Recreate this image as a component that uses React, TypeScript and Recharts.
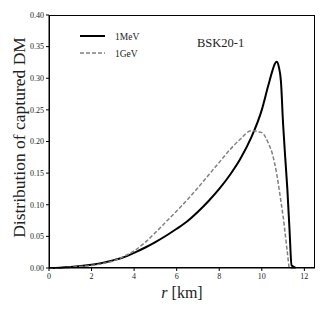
import { Label, Line, LineChart, XAxis, YAxis } from "recharts";

const radius = [
  0, 0.5, 1, 1.5, 2, 2.5, 3, 3.5, 4, 4.5, 5, 5.5, 6, 6.5, 7, 7.5, 8, 8.5, 9, 9.5, 10, 10.3, 10.5,
  10.6, 10.7, 10.8, 10.9, 11, 11.1, 11.2, 11.3, 11.4, 11.5, 11.6
];

const mev = [
  0, 0.0005, 0.0015, 0.003, 0.005, 0.008, 0.012, 0.017, 0.024, 0.032, 0.041, 0.051, 0.062, 0.074,
  0.089, 0.106, 0.125, 0.147, 0.173, 0.206, 0.25, 0.288, 0.312, 0.322, 0.326, 0.318, 0.295, 0.228,
  0.175, 0.125, 0.062, 0.004, 0.002, 0
];

const gev = [
  0, 0.0003, 0.001, 0.0025, 0.004, 0.007, 0.011, 0.018, 0.027, 0.04, 0.056, 0.073, 0.09, 0.108,
  0.127, 0.147, 0.167, 0.187, 0.204, 0.217, 0.214, 0.198, 0.18, 0.166, 0.149, 0.128, 0.105, 0.082,
  0.054, 0.025, 0, 0, 0, 0
];

const xTicks = [0, 2, 4, 6, 8, 10, 12];
const yTicks = [0, 0.05, 0.1, 0.15, 0.2, 0.25, 0.3, 0.35, 0.4];

const series = [
  { key: "mev", name: "1MeV", color: "#000000", width: 2, dash: undefined },
  { key: "gev", name: "1GeV", color: "#808080", width: 1.5, dash: "4 2" }
];

const data = radius.map((r, i) => ({ r, mev: mev[i], gev: gev[i] }));

const SERIF = "'Liberation Serif', 'DejaVu Serif', serif";
const tickStyle = { fontSize: 8, fontFamily: SERIF, fill: "#222" };

function LegendBox() {
  return (
    <svg width={70} height={34} style={{ position: "absolute", left: 80, top: 30 }}>
      {series.map((s, i) => (
        <g key={s.key}>
          <line
            x1={0}
            x2={25}
            y1={6 + i * 17}
            y2={6 + i * 17}
            stroke={s.color}
            strokeWidth={s.width}
            strokeDasharray={s.dash}
          />
          <text x={35} y={9.5 + i * 17} fontSize={9.5} fontFamily={SERIF} fill="#222">
            {s.name}
          </text>
        </g>
      ))}
    </svg>
  );
}

export default function App() {
  return (
    <div style={{ position: "relative", width: 332, height: 315 }}>
      <style>{"body{margin:0;background:#fff}"}</style>
      <LineChart width={332} height={315} data={data} margin={{ top: 15, right: 17, bottom: 17, left: 9 }}>
        <XAxis
          dataKey="r"
          type="number"
          domain={[0, 12.5]}
          ticks={xTicks}
          tick={tickStyle}
          tickSize={3}
          height={30}
          stroke="#000"
          allowDataOverflow
        >
          <Label
            content={({ viewBox }: any) => (
              <text
                x={viewBox.x + viewBox.width / 2}
                y={viewBox.y + 30}
                textAnchor="middle"
                fontSize={16}
                fontFamily={SERIF}
                fill="#222"
              >
                <tspan fontStyle="italic">r</tspan> [km]
              </text>
            )}
          />
        </XAxis>
        <YAxis
          domain={[0, 0.4]}
          ticks={yTicks}
          tick={tickStyle}
          tickSize={3}
          tickFormatter={(v: number) => v.toFixed(2)}
          width={40}
          stroke="#000"
        >
          <Label
            content={({ viewBox }: any) => {
              const cx = viewBox.x + 10;
              const cy = viewBox.y + viewBox.height / 2 - 4;
              return (
                <text
                  x={cx}
                  y={cy}
                  transform={`rotate(-90 ${cx} ${cy})`}
                  textAnchor="middle"
                  dominantBaseline="central"
                  fontSize={17.5}
                  fontFamily={SERIF}
                  fill="#222"
                >
                  Distribution of captured DM
                </text>
              );
            }}
          />
        </YAxis>
        {series.map((s) => (
          <Line
            key={s.key}
            type="monotone"
            dataKey={s.key}
            name={s.name}
            stroke={s.color}
            strokeWidth={s.width}
            strokeDasharray={s.dash}
            dot={false}
            isAnimationActive={false}
          />
        ))}
      </LineChart>
      <div
        style={{
          position: "absolute",
          left: 49,
          top: 15,
          width: 266,
          height: 253,
          boxSizing: "border-box",
          border: "1px solid #000",
          pointerEvents: "none"
        }}
      />
      <LegendBox />
      <div
        style={{
          position: "absolute",
          left: 197,
          top: 35,
          fontSize: 12.5,
          fontFamily: SERIF,
          color: "#222",
          lineHeight: "16px"
        }}
      >
        BSK20-1
      </div>
    </div>
  );
}
